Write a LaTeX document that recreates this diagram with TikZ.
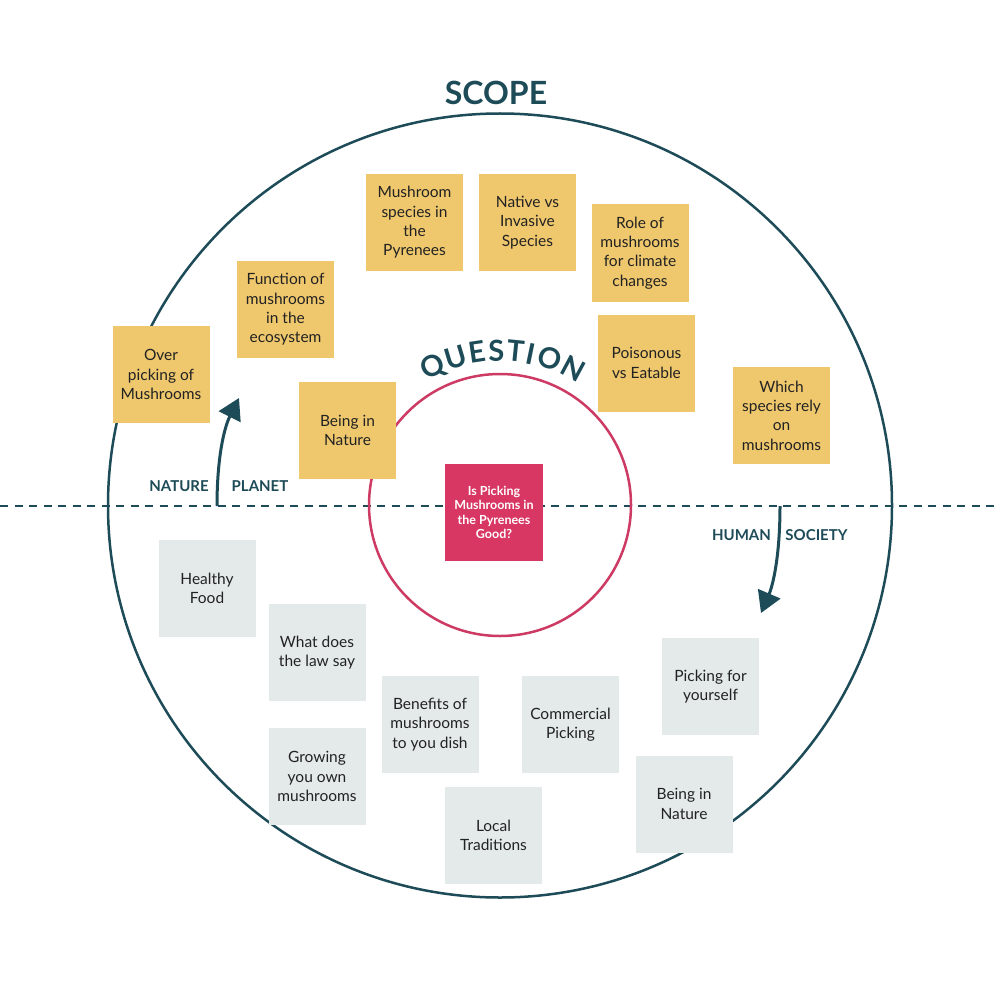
\documentclass[tikz,border=0pt]{standalone}
\usepackage{fontspec}
\setmainfont{Lato}
\usetikzlibrary{arrows.meta}
\definecolor{scopeteal}{HTML}{1D4B57}
\definecolor{stickyY}{HTML}{EFC86E}
\definecolor{stickyG}{HTML}{E4E9E9}
\definecolor{qred}{HTML}{D83763}
\definecolor{qline}{HTML}{CD3A63}
\definecolor{inktext}{HTML}{222222}
\tikzset{
  sticky/.style={minimum width=97pt, minimum height=97pt, inner sep=0pt, align=center,
    font=\fontsize{15.5}{19.4}\selectfont, text=inktext},
  yel/.style={sticky, fill=stickyY},
  gry/.style={sticky, fill=stickyG},
  qletter/.style={anchor=base, inner sep=0pt, text=scopeteal, font=\bfseries\fontsize{29}{29}\selectfont},
  sidelabel/.style={inner sep=0pt, text=scopeteal, font=\bfseries\fontsize{15}{16}\selectfont},
  turnarrow/.style={scopeteal, line width=3pt, -{Triangle[length=21pt, width=24pt]}}
}
\begin{document}
\begin{tikzpicture}[x=1pt, y=-1pt]
\useasboundingbox (0,0) rectangle (1000,1000);
% dashed divider
\coordinate (dl) at (0,506);
\coordinate (dr) at (1000,506);
\draw[scopeteal, line width=2pt, dash pattern=on 8pt off 6.5pt] (dl) -- (dr);
% circles
\node[draw=scopeteal, line width=2.5pt, circle, minimum size=784pt, inner sep=0pt] (scope) at (500,505.5) {};
\node[draw=qline, line width=2.5pt, circle, minimum size=262pt, inner sep=0pt] (inner) at (500,505) {};
% titles
\node[inner sep=0pt, text=scopeteal, font=\bfseries\fontsize{32}{33}\selectfont] (scopetitle) at (496,93) {SCOPE};
\foreach \ch/\ang [count=\i] in {Q/-26.1, U/-16.7, E/-8.6, S/-1.4, T/5.8, I/11.7, O/18.7, N/28.3}{
  \node[qletter, rotate=-\ang] (ql\i) at ({500+144*sin(\ang)},{505-144*cos(\ang)}) {\ch};
}
% arrows
\coordinate (na0) at (217,506);
\coordinate (na1) at (239,398);
\draw[turnarrow] (na0) .. controls (217,458) and (224,428) .. (na1);
\coordinate (hs0) at (780,506);
\coordinate (hs1) at (761,613);
\draw[turnarrow] (hs0) .. controls (780,556) and (773,585) .. (hs1);
\node[sidelabel] (nature) at (179,486) {NATURE};
\node[sidelabel] (planet) at (260,486) {PLANET};
\node[sidelabel] (human) at (741.5,535) {HUMAN};
\node[sidelabel] (society) at (816.5,535) {SOCIETY};
% yellow notes
\node[yel] (y1) at (414.5,222.5) {Mushroom\\species in\\the\\Pyrenees};
\node[yel] (y2) at (527.5,222.5) {Native vs\\Invasive\\Species};
\node[yel] (y3) at (640,253) {Role of\\mushrooms\\for climate\\changes};
\node[yel] (y4) at (285.5,309.5) {Function of\\mushrooms\\in the\\ecosystem};
\node[yel] (y5) at (161,374.5) {Over\\picking of\\Mushrooms};
\node[yel] (y6) at (347.5,430.5) {Being in\\Nature};
\node[yel] (y7) at (646.5,363) {Poisonous\\vs Eatable};
\node[yel] (y8) at (781.5,415.5) {Which\\species rely\\on\\mushrooms};
% grey notes
\node[gry] (g1) at (207,588.5) {Healthy\\Food};
\node[gry] (g2) at (317,652.5) {What does\\the law say};
\node[gry] (g3) at (317,776.5) {Growing\\you own\\mushrooms};
\node[gry] (g4) at (430,724.5) {Benefits of\\mushrooms\\to you dish};
\node[gry] (g5) at (493.5,835.5) {Local\\Traditions};
\node[gry] (g6) at (570.5,724.5) {Commercial\\Picking};
\node[gry] (g7) at (710.5,686.5) {Picking for\\yourself};
\node[gry] (g8) at (684,804) {Being in\\Nature};
% central question
\node[sticky, fill=qred, text=white, minimum width=98pt, font=\bfseries\fontsize{12.5}{14.5}\selectfont] (q) at (494,512.5) {Is Picking\\Mushrooms in\\the Pyrenees\\Good?};
\end{tikzpicture}
\end{document}
